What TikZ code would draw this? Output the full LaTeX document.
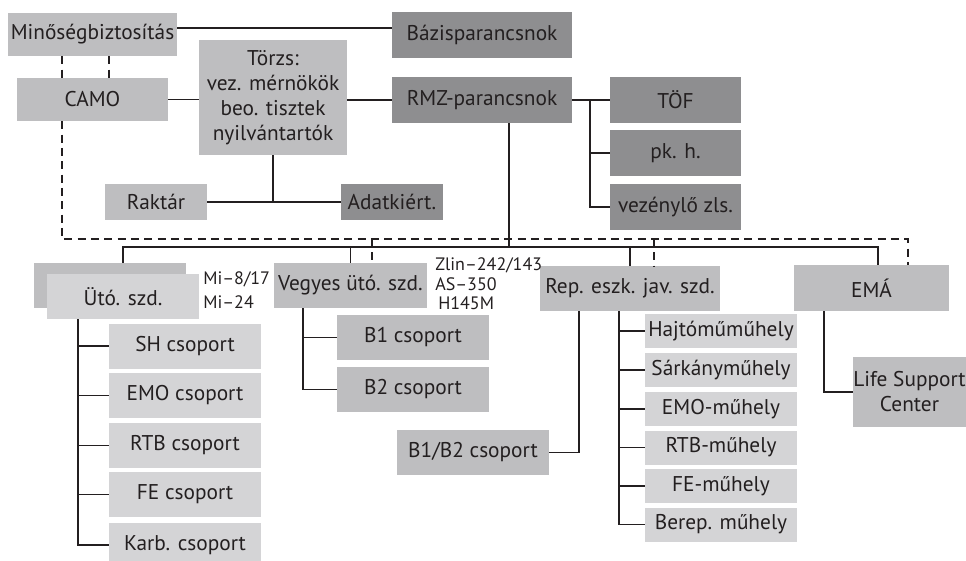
\documentclass[tikz,border=0pt]{standalone}
\usepackage{fontspec}
\setmainfont{PT Sans}
\usetikzlibrary{calc}

\definecolor{boxdark}{RGB}{142,142,144}
\definecolor{boxmid}{RGB}{190,190,192}
\definecolor{boxlight}{RGB}{212,212,214}
\definecolor{inkgray}{RGB}{35,31,32}

\tikzset{
	cell/.style 2 args={minimum width=#1*0.75pt, minimum height=#2*0.75pt, inner sep=0pt, align=center, text=inkgray, font=\fontsize{16}{18.75}\selectfont},
	dark/.style={fill=boxdark},
	mid/.style={fill=boxmid},
	light/.style={fill=boxlight},
	conn/.style={draw=inkgray, line width=0.9pt},
	dashconn/.style={draw=inkgray, line width=0.9pt, dash pattern=on 6pt off 4pt},
	note/.style={inner sep=0pt, align=left, text=inkgray, font=\fontsize{13.5}{14.6}\selectfont}
}

\begin{document}
\begin{tikzpicture}[x=0.75pt,y=-0.75pt]
	\useasboundingbox (0,0) rectangle (966,560);
	\clip (0,0) rectangle (966,560);

	\node[cell={169}{43},mid] (minoseg) at (92.5,34.5) {Minőségbiztosítás};
	\node[cell={151}{43},mid] (camo) at (92.5,99.5) {CAMO};
	\node[cell={148}{115},mid] (torzs) at (273,97.5) {Törzs:\\vez. mérnökök\\beo. tisztek\\nyilvántartók};
	\node[cell={102}{36},mid] (raktar) at (156,202) {Raktár};
	\node[cell={102}{36},dark] (adat) at (392,202) {Adatkiért.};
	\node[cell={180}{46},dark] (bazis) at (482,35) {Bázisparancsnok};
	\node[cell={180}{46},dark] (rmz) at (482,100) {RMZ-parancsnok};
	\node[cell={131}{46},dark] (tof) at (675.5,100) {TÖF};
	\node[cell={131}{46},dark] (pkh) at (675.5,153) {pk. h.};
	\node[cell={131}{46},dark] (vez) at (675.5,207) {vezénylő zls.};

	\node[cell={152}{45},mid] (utoback) at (110,285.5) {};
	\node[cell={152}{45},light] (uto) at (123,296.5) {\raisebox{-2pt}{Ütó. szd.}};
	\node[cell={153}{45},mid] (vegyes) at (350.5,285.5) {Vegyes ütó. szd.};
	\node[cell={180}{45},mid] (rep) at (630,288.5) {Rep. eszk. jav. szd.};
	\node[cell={155}{46},mid] (ema) at (871.5,288) {EMÁ};
	\node[note,anchor=west] (mi) at (203,290) {Mi–8/17\\[3.4pt]Mi–24};
	\node[note,anchor=west] (zlin) at (435,284) {Zlin–242/143\\AS–350\\\,H145M};

	\foreach \name/\y/\txt in {sh/346/SH csoport, emo/395.5/EMO csoport, rtb/445.5/RTB csoport, fe/494.5/FE csoport, karb/545/Karb. csoport}
		\node[cell={152}{45},light] (\name) at (185,\y) {\txt};
	\node[cell={152}{45},mid] (bone) at (413,337.5) {B1 csoport};
	\node[cell={152}{45},mid] (btwo) at (413,389.5) {B2 csoport};
	\node[cell={152}{45},mid] (bboth) at (473,452.5) {B1/B2 csoport};
	\foreach \name/\y/\txt in {hajto/331/Hajtóműműhely, sarkany/370/Sárkányműhely, emom/409/EMO-műhely, rtbm/447.5/RTB-műhely, fem/486/FE-műhely, berep/524.5/Berep. műhely}
		\node[cell={152}{34},light] (\name) at (721,\y) {\txt};
	\node[cell={113}{70},mid] (lsc) at (909.5,392) {Life Support\\Center};

	\coordinate (bus) at (0,247);
	\coordinate (dashrow) at (0,239);
	\coordinate (camodash) at (62,0);
	\coordinate (minodash) at (109,0);
	\coordinate (vegdash) at (372,0);
	\coordinate (repdash) at (654,0);
	\coordinate (emadash) at (908,0);
	\coordinate (rmzdrop) at (509,0);
	\coordinate (emadrop) at (878,0);
	\coordinate (rmzspine) at (590,0);
	\coordinate (utospine) at (78,0);
	\coordinate (vegspine) at (303,0);
	\coordinate (repfeed) at (579,0);
	\coordinate (repspine) at (619,0);
	\coordinate (emafeed) at (824,0);

	\draw[conn] ([yshift=4.9pt]minoseg.east) -- ([yshift=4.9pt]minoseg.east -| bazis.west);
	\draw[conn] (camo.east) -- (camo.east -| torzs.west);
	\draw[conn] (rmz.west -| torzs.east) -- (rmz.west);
	\draw[conn] (torzs.south) -- (torzs.south |- raktar.east);
	\draw[conn] (raktar.east) -- (adat.west);
	\draw[conn] (rmz.east) -- (tof.west);
	\draw[conn] (tof.west -| rmzspine) |- (vez.west);
	\draw[conn] (pkh.west -| rmzspine) -- (pkh.west);

	\draw[conn] (rmz.south -| rmzdrop) -- (bus -| rmzdrop);
	\draw[conn] (uto.north |- utoback.north) -- (uto.north |- bus) -| (ema.north -| emadrop);
	\draw[conn] (vegyes.north) -- (vegyes.north |- bus);
	\draw[conn] (rep.north) -- (rep.north |- bus);

	\draw[dashconn] (minoseg.south -| camodash) -- (camo.north -| camodash);
	\draw[dashconn] (minoseg.south -| minodash) -- (camo.north -| minodash);
	\draw[dashconn] (camo.south -| camodash) |- (dashrow -| emadash) -- (ema.north -| emadash);
	\draw[dashconn] (dashrow -| vegdash) -- (vegyes.north -| vegdash);
	\draw[dashconn] (dashrow -| repdash) -- (rep.north -| repdash);

	\draw[conn] (uto.south -| utospine) |- (karb.west);
	\foreach \name in {sh,emo,rtb,fe}
		\draw[conn] (\name.west -| utospine) -- (\name.west);
	\draw[conn] (vegyes.south -| vegspine) |- (btwo.west);
	\draw[conn] (bone.west -| vegspine) -- (bone.west);
	\draw[conn] (rep.south -| repfeed) |- (bboth.east);
	\draw[conn] (rep.south -| repspine) |- (berep.west);
	\foreach \name in {hajto,sarkany,emom,rtbm,fem}
		\draw[conn] (\name.west -| repspine) -- (\name.west);
	\draw[conn] (ema.south -| emafeed) |- (lsc.west);
\end{tikzpicture}
\end{document}
